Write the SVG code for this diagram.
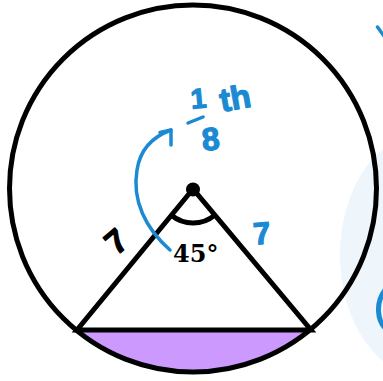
<svg xmlns="http://www.w3.org/2000/svg" width="383" height="381" viewBox="0 0 383 381">
  <style>
    .ink { fill: none; stroke: #000; stroke-width: 5; }
    .blue { fill: none; stroke: #1b8ad3; stroke-width: 3.5; stroke-linecap: round; stroke-linejoin: round; }
    .hand { font-family: "Liberation Sans", Arial, sans-serif; font-weight: bold; text-anchor: middle; stroke-width: 1.2; stroke-linejoin: round; }
    .bluetext { fill: #1b8ad3; stroke: #1b8ad3; }
    .blacktext { fill: #000; stroke: #000; }
  </style>
  <rect width="383" height="381" fill="#fff"/>
  <g id="background-fragments">
    <ellipse cx="425" cy="255" rx="85" ry="122" fill="#eef5fb"/>
    <line x1="377.5" y1="27" x2="384" y2="36" stroke="#1b8ad3" stroke-width="3.5" stroke-linecap="round"/>
    <path d="M 385 290 Q 378 299 378.5 311 Q 379 322 385 328" fill="none" stroke="#1b8ad3" stroke-width="5"/>
  </g>
  <g id="segment">
    <path d="M 77 330 A 183.5 183.5 0 0 0 311 330 Z" fill="#cc99ff"/>
  </g>
  <g id="circle">
    <circle cx="193" cy="188.5" r="183.5" class="ink" stroke-width="6"/>
  </g>
  <g id="triangle">
    <polygon points="193,189 77,330 311,330" class="ink" stroke-linejoin="miter"/>
    <circle cx="193" cy="189.5" r="7" fill="#000"/>
  </g>
  <g id="angle">
    <path d="M 171.4 215.3 A 34 34 0 0 0 214.8 215.1" class="ink" stroke-width="4"/>
    <text x="173" y="262" font-family="'DejaVu Serif', 'Liberation Serif', serif" font-weight="bold" font-size="24" fill="#000">45°</text>
  </g>
  <g id="side-labels">
    <text class="hand blacktext" font-size="33" transform="translate(116,241) rotate(-40)" x="0" y="11.8">7</text>
    <text class="hand bluetext" font-size="31" transform="translate(262,233) rotate(-5)" x="0" y="11">7</text>
  </g>
  <g id="fraction-label">
    <text class="hand bluetext" font-size="28" transform="translate(198.5,98) rotate(-5)" x="0" y="10">1</text>
    <line x1="188" y1="123" x2="203" y2="117" class="blue" stroke-width="4"/>
    <text class="hand bluetext" font-size="32" transform="translate(210.5,138.5) rotate(-5)" x="0" y="11.5">8</text>
    <text class="hand bluetext" font-size="33" transform="translate(235,97.5) rotate(-10)" x="0" y="12">th</text>
  </g>
  <g id="connectors">
    <path d="M 170 250 C 145 228 132 200 137 170 C 140 150 152 137 171 130" class="blue"/>
    <polyline points="160,132.5 171,130 171,145" class="blue"/>
  </g>
</svg>
